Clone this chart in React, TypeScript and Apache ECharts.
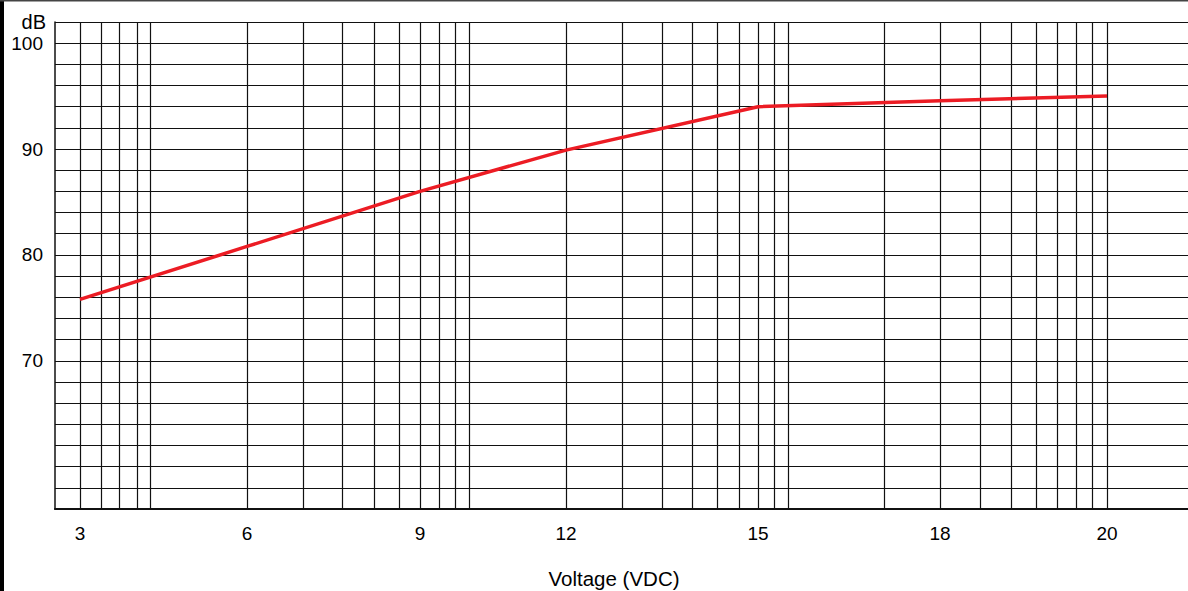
import React, { useEffect, useRef } from "react";
import * as echarts from "echarts";

// Voltage tick labels and where they sit on the chart paper (paper units from the grid's left edge)
const voltTicks = [3, 6, 9, 12, 15, 18, 20];
const voltTickPos = [25, 192, 365, 511, 703, 885, 1052];

// Vertical rulings of the chart paper (paper units)
const paperLines = [
  25, 46.5, 64, 82, 95.5,
  192, 248, 287, 319, 344, 365, 384, 400, 414,
  511, 567, 607, 637, 662, 684, 703, 719, 733,
  829, 885, 925, 956, 981, 1002, 1021, 1037, 1052,
];

// Measured curve
const voltage = [3, 6, 9, 12, 15, 18, 20];
const soundLevel = [75.8, 80.8, 86.0, 89.9, 94.0, 94.57, 95.0];

const yLabels = [70, 80, 90, 100];

// map a voltage onto the paper scale using the labelled ticks
function voltToPaper(v: number): number {
  for (let i = 0; i < voltTicks.length - 1; i++) {
    const a = voltTicks[i];
    const b = voltTicks[i + 1];
    if (v >= a && v <= b) {
      return voltTickPos[i] + ((v - a) / (b - a)) * (voltTickPos[i + 1] - voltTickPos[i]);
    }
  }
  return v < voltTicks[0] ? voltTickPos[0] : voltTickPos[voltTickPos.length - 1];
}

const FONT = "'Liberation Sans', Arial, sans-serif";
const INK = "#111";
const TEXT = "#000";

export default function App() {
  const ref = useRef<HTMLDivElement>(null);
  useEffect(() => {
    if (!ref.current) return;
    const chart = echarts.init(ref.current, undefined, { renderer: "svg" });
    const option: any = {
      animation: false,
      backgroundColor: "#fff",
      grid: { left: 55, right: 0, top: 22, bottom: 82, containLabel: false, outerBoundsMode: "none" },
      xAxis: {
        type: "value",
        min: 0,
        max: 1133,
        axisLine: { show: true, lineStyle: { color: INK, width: 2.2 } },
        axisTick: { show: false, customValues: paperLines },
        splitLine: { show: true, lineStyle: { color: INK, width: 1.2 } },
        axisLabel: {
          customValues: voltTickPos,
          margin: 15,
          fontSize: 19,
          fontFamily: FONT,
          color: TEXT,
          formatter: (v: number) => {
            const i = voltTickPos.indexOf(v);
            return i >= 0 ? String(voltTicks[i]) : "";
          },
        },
      },
      yAxis: {
        type: "value",
        min: 56,
        max: 102,
        interval: 2,
        axisLine: { show: true, lineStyle: { color: INK, width: 1.5 } },
        axisTick: { show: false },
        splitLine: { show: true, lineStyle: { color: INK, width: 1.2 } },
        axisLabel: {
          margin: 12,
          fontSize: 19,
          fontFamily: FONT,
          color: TEXT,
          showMinLabel: true,
          showMaxLabel: true,
          formatter: (v: number) => (yLabels.indexOf(v) >= 0 ? String(v) : ""),
        },
      },
      series: [
        {
          type: "line",
          data: voltage.map((v, i) => [voltToPaper(v), soundLevel[i]]),
          showSymbol: false,
          symbol: "none",
          lineStyle: { color: "#ec1c24", width: 3.5 },
          z: 5,
        },
      ],
      graphic: [
        { type: "rect", shape: { x: 0, y: 0, width: 4, height: 591 }, style: { fill: "#000" }, z: 10 },
        { type: "rect", shape: { x: 0, y: 0, width: 1188, height: 1.5 }, style: { fill: "#444" }, z: 10 },
        {
          type: "text",
          x: 46,
          y: 22,
          style: {
            text: "dB",
            fontSize: 20,
            fontFamily: FONT,
            fill: TEXT,
            textAlign: "right",
            textVerticalAlign: "middle",
          },
        },
        {
          type: "text",
          x: 614,
          y: 578,
          style: {
            text: "Voltage (VDC)",
            fontSize: 20.5,
            fontFamily: FONT,
            fill: TEXT,
            textAlign: "center",
            textVerticalAlign: "middle",
          },
        },
      ],
    };
    chart.setOption(option);
    return () => chart.dispose();
  }, []);
  return (
    <div
      ref={ref}
      style={{ position: "fixed", left: 0, top: 0, width: 1188, height: 591, background: "#fff" }}
    />
  );
}
